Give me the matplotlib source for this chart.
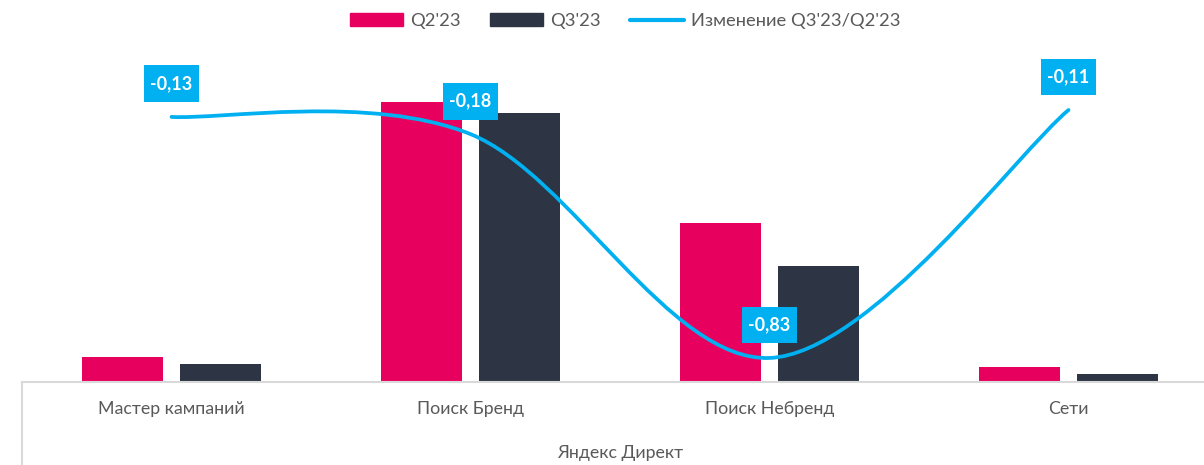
import matplotlib
matplotlib.use("Agg")
import matplotlib.pyplot as plt
from matplotlib.path import Path
from matplotlib.patches import PathPatch, Patch
from matplotlib.lines import Line2D

categories = ['Мастер кампаний', 'Поиск Бренд', 'Поиск Небренд', 'Сети']
q2_values = [25, 280, 159, 15]
q3_values = [18, 269, 116, 8]
change = [-0.13, -0.18, -0.83, -0.11]
change_labels = ['-0,13', '-0,18', '-0,83', '-0,11']
group_label = 'Яндекс Директ'

PINK = '#E8005E'
NAVY = '#2D3443'
BLUE = '#00B0F0'
GRID = '#D9D9D9'
TEXT = '#595959'

plt.rcParams['font.family'] = ['Lato', 'DejaVu Sans']


def smooth_path(xs, ys):
    # cardinal spline through the points, as office charts draw "smoothed" lines
    pts = list(zip(xs, ys))
    n = len(pts)
    verts = [pts[0]]
    codes = [Path.MOVETO]
    for i in range(n - 1):
        p0 = pts[i - 1] if i > 0 else pts[i]
        p1 = pts[i]
        p2 = pts[i + 1]
        p3 = pts[i + 2] if i + 2 < n else pts[i + 1]
        c1 = (p1[0] + (p2[0] - p0[0]) / 6, p1[1] + (p2[1] - p0[1]) / 6)
        c2 = (p2[0] - (p3[0] - p1[0]) / 6, p2[1] - (p3[1] - p1[1]) / 6)
        verts += [c1, c2, p2]
        codes += [Path.CURVE4] * 3
    return Path(verts, codes)


def label_box(x0, y0, width, height, mutation_size):
    # plain rectangle with more padding above/below than at the sides
    px, py = 0.36 * mutation_size, 0.55 * mutation_size
    x0, y0 = x0 - px, y0 - py
    x1, y1 = x0 + width + 2 * px, y0 + height + 2 * py
    return Path([(x0, y0), (x1, y0), (x1, y1), (x0, y1), (x0, y0)], closed=True)


fig = plt.figure(figsize=(12.04, 4.65), dpi=100)
ax = fig.add_axes([22 / 1204, 83 / 465, (1218 - 22) / 1204, 342 / 465])

x = list(range(len(categories)))
w = 0.27
ax.bar([i - 0.163 for i in x], q2_values, width=w, color=PINK, zorder=2)
ax.bar([i + 0.163 for i in x], q3_values, width=w, color=NAVY, zorder=2)

ax.set_xlim(-0.5, 3.5)
ax.set_ylim(0, 342)
ax.set_yticks([])
ax.set_xticks(x)
ax.set_xticklabels(categories, fontsize=12.8, color=TEXT)
ax.tick_params(axis='x', length=0, pad=14)
for s in ['top', 'right', 'left']:
    ax.spines[s].set_visible(False)
ax.spines['bottom'].set_color(GRID)
ax.spines['bottom'].set_linewidth(1.5)
ax.add_line(Line2D([0, 0], [0, -83 / 342], transform=ax.transAxes,
                   color=GRID, lw=1.5, clip_on=False))

ax2 = ax.twinx()
ax2.set_ylim(-0.8998, 0.0933)
ax2.set_yticks([])
for s in ax2.spines.values():
    s.set_visible(False)
ax2.add_patch(PathPatch(smooth_path(x, change), fill=False, edgecolor=BLUE,
                        lw=2.7, capstyle='round', zorder=3))
for i, (v, lbl) in enumerate(zip(change, change_labels)):
    ax2.annotate(lbl, (i, v), xytext=(0, 33), textcoords='offset pixels',
                 ha='center', va='center', fontsize=13, fontweight='bold',
                 color='white', zorder=4,
                 bbox=dict(boxstyle=label_box, fc=BLUE, ec='none'))

fig.text(620 / 1204, 1 - 453 / 465, group_label, ha='center', va='center',
         fontsize=12.8, color=TEXT)

handles = [Patch(color=PINK), Patch(color=NAVY),
           Line2D([], [], color=BLUE, lw=3, solid_capstyle='round')]
fig.legend(handles, ["Q2'23", "Q3'23", "Изменение Q3'23/Q2'23"],
           loc='center', bbox_to_anchor=(625 / 1204, 1 - 21 / 465), ncol=3,
           frameon=False, labelcolor=TEXT, handlelength=2.9,
           handletextpad=0.4, columnspacing=1.6, prop={'size': 13.2})

fig.savefig('out.png', dpi=100)
